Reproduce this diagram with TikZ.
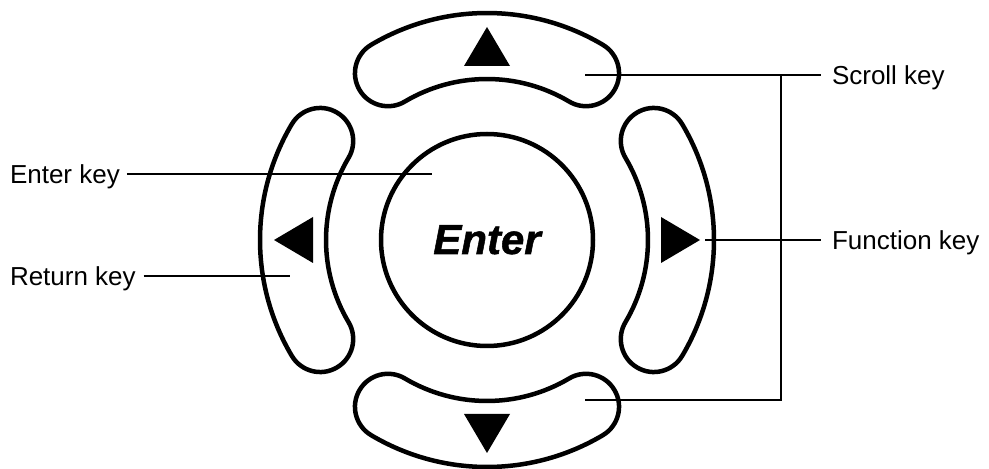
\documentclass[tikz,border=0pt]{standalone}
\usepackage{fontspec}
\setmainfont{Liberation Sans}
\newfontfamily\enterfont[FakeBold=1.2]{Liberation Sans}
\begin{document}
\begin{tikzpicture}[x=1pt,y=1pt,
  keyline/.style={line width=4.5pt, fill=white, draw=black, line join=round},
  arrowtri/.style={fill=black, draw=none},
  leader/.style={line width=1.2pt, draw=black},
  lbl/.style={inner sep=0pt, outer sep=0pt, anchor=west, text height=18.6pt, text depth=0pt, font=\fontsize{26}{30}\selectfont}]
\useasboundingbox (0,0) rectangle (989,469);
% four keys
\foreach \r/\nm in {0/up,90/left,180/down,270/right}{
  \begin{scope}[shift={(487,229)}, rotate=\r]
    \draw[keyline] (59.3:227) arc[start angle=59.3, end angle=120.7, radius=227]
      arc[start angle=120.7, end angle=300.7, radius=33]
      arc[start angle=120.7, end angle=59.3, radius=161]
      arc[start angle=239.3, end angle=419.3, radius=33] -- cycle;
    \fill[arrowtri] (0,213) -- (-23,174) -- (23,174) -- cycle;
  \end{scope}
}
% enter key
\node[circle, line width=4.5pt, draw=black, fill=white, minimum size=212pt, inner sep=0pt] (enter) at (487,229) {};
\node[anchor=base, inner sep=0pt, font=\fontsize{42}{46}\enterfont\bfseries\itshape] (entertxt) at (487,215) {Enter};
% labels
\node[lbl] (scroll) at (832,394) {Scroll key};
\node[lbl] (func) at (832,229) {Function key};
\node[lbl] (enterlbl) at (10,295) {Enter key};
\node[lbl] (returnlbl) at (10,193) {Return key};
% leader end points
\coordinate (sTop) at (585,394);
\coordinate (sBot) at (585,69);
\coordinate (sJ) at (781,394);
\coordinate (fTip) at (705,229);
\coordinate (eTip) at (432,295);
\coordinate (rTip) at (290,193);
\draw[leader, shorten >=11pt] (sTop) -- (scroll.west);
\draw[leader] (sBot) -| (sJ);
\draw[leader, shorten >=11pt] (fTip) -- (func.west);
\draw[leader, shorten <=7pt] (enterlbl.east) -- (eTip);
\draw[leader, shorten <=8pt] (returnlbl.east) -- (rTip);
\end{tikzpicture}
\end{document}
